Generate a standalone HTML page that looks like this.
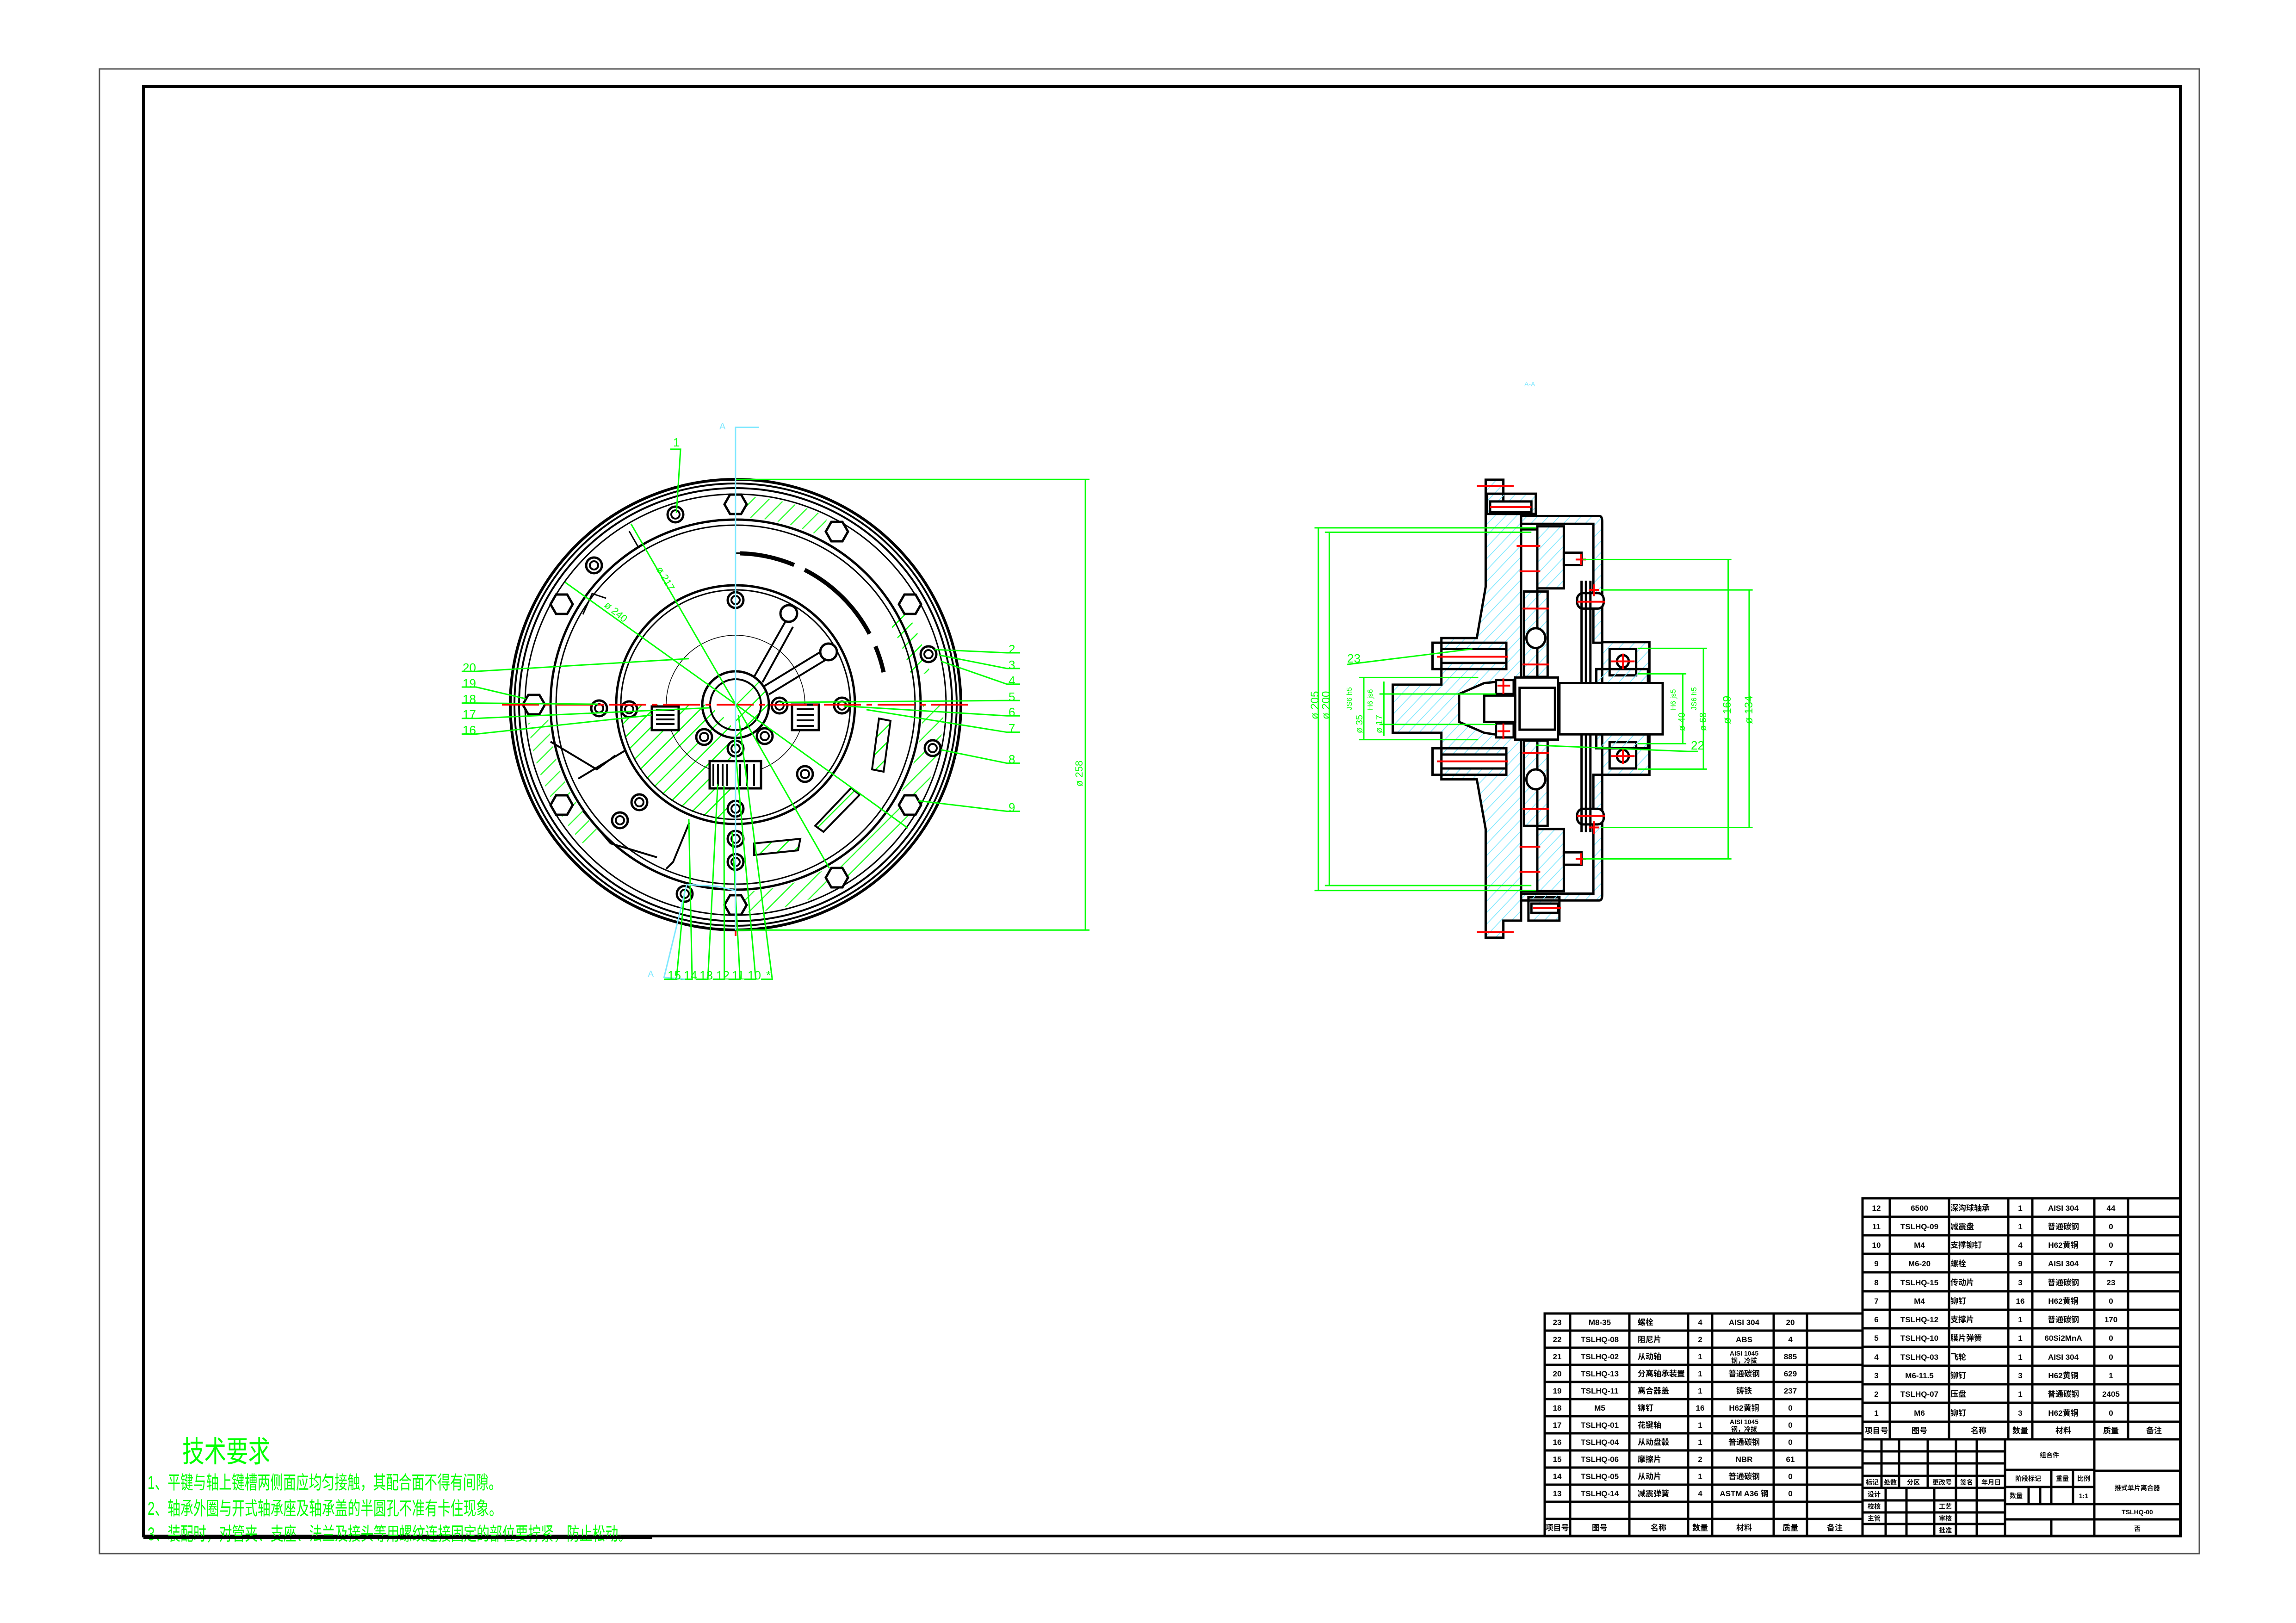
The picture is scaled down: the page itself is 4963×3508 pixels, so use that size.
<!DOCTYPE html>
<html><head><meta charset="utf-8"><style>
html,body{margin:0;padding:0;background:#fff;}
svg{display:block;}
text{font-family:"Liberation Sans","Noto Sans CJK SC",sans-serif;}
.k{stroke:#000;fill:none;}
.g{stroke:#00ff00;fill:none;}
.ns{vector-effect:non-scaling-stroke;}
</style></head><body>
<svg width="4963" height="3508" viewBox="0 0 4963 3508" xmlns="http://www.w3.org/2000/svg">
<defs>
<pattern id="hg" patternUnits="userSpaceOnUse" width="24" height="24" patternTransform="rotate(45)"><line x1="0" y1="0" x2="0" y2="24" stroke="#00ff00" stroke-width="5"/></pattern>
<pattern id="hc" patternUnits="userSpaceOnUse" width="26" height="26" patternTransform="rotate(45)"><line x1="0" y1="0" x2="0" y2="26" stroke="#7fe8ff" stroke-width="5"/></pattern>
<polygon id="hex" points="24,0 12,21 -12,21 -24,0 -12,-21 12,-21" fill="#fff" stroke="#000" stroke-width="5"/>
<g id="hole"><circle r="17" fill="#fff" stroke="#000" stroke-width="5"/><circle r="9" fill="none" stroke="#000" stroke-width="4"/></g>
</defs>
<rect width="4963" height="3508" fill="#fff"/>
<!-- frames -->
<rect x="215" y="149" width="4539" height="3209" fill="none" stroke="#555" stroke-width="3"/>
<rect x="310" y="187" width="4403" height="3133" fill="none" stroke="#000" stroke-width="6"/>

<!-- ================= FRONT VIEW ================= -->
<g transform="translate(1590,1523)">
  <!-- hatched regions -->
  <path d="M-250,0 A250,250 0 0 0 -10,250 L-10,40 L-60,0 Z" fill="url(#hg)"/>
  <path d="M0,0 L50,-50 A70,70 0 0 1 55,50 L0,70 Z" fill="url(#hg)"/>
  <path d="M405,0 A405,405 0 0 1 5,405 L5,450 A450,450 0 0 0 450,0 Z" fill="url(#hg)" opacity="0.85"/>
  <path d="M-405,30 A405,405 0 0 0 -300,270 L-330,300 A450,450 0 0 1 -448,40 Z" fill="url(#hg)" opacity="0.8"/>
  <path d="M5,-405 A405,405 0 0 1 180,-365 L200,-405 A450,450 0 0 0 5,-450 Z" fill="url(#hg)" opacity="0.8"/>
  <path d="M330,-180 A375,375 0 0 1 380,-60 L420,-70 A430,430 0 0 0 370,-200 Z" fill="url(#hg)"/>
  <!-- rings -->
  <circle r="487" class="k" stroke-width="6"/>
  <circle r="478" class="k" stroke-width="4"/>
  <circle r="468" class="k" stroke-width="4"/>
  <circle r="455" class="k" stroke-width="3"/>
  <circle r="400" class="k" stroke-width="5"/>
  <circle r="388" class="k" stroke-width="3"/>
  <circle r="258" class="k" stroke-width="5"/>
  <circle r="248" class="k" stroke-width="3"/>
  <circle r="150" class="k" stroke-width="1.5"/>
  <circle r="72" class="k" stroke-width="5"/>
  <circle r="55" class="k" stroke-width="4"/>
  <!-- dark arcs -->
  <path d="M10,-327 A327,327 0 0 1 320,-70" class="k" stroke-width="9" stroke-dasharray="120,25,200,30"/>
  <path d="M0,-327 L10,-327" class="k" stroke-width="4"/>
  <!-- slots -->
  <path d="M310,30 L335,35 L320,145 L295,140 Z" fill="url(#hg)" stroke="#000" stroke-width="4"/>
  <path d="M250,180 L268,195 L190,275 L172,262 Z" fill="url(#hg)" stroke="#000" stroke-width="4"/>
  <path d="M40,300 L140,290 L135,315 L40,325 Z" fill="url(#hg)" stroke="#000" stroke-width="4"/>
  <!-- compartments lower-left -->
  <path d="M-400,80 L-300,140 L-260,110" class="k" stroke-width="4"/>
  <path d="M-340,160 L-240,100" class="k" stroke-width="4"/>
  <path d="M-330,230 L-270,300 L-170,330" class="k" stroke-width="4"/>
  <path d="M-100,255 L-135,340 L-150,355" class="k" stroke-width="4"/>
  <path d="M-330,-195 L-310,-240 L-280,-230" class="k" stroke-width="3"/>
  <path d="M-230,-375 L-210,-340" class="k" stroke-width="3"/>
  <!-- hexagons -->
  <use href="#hex" x="0" y="-433"/><use href="#hex" x="219" y="-374"/><use href="#hex" x="377" y="-217"/>
  <use href="#hex" x="377" y="217"/><use href="#hex" x="219" y="374"/><use href="#hex" x="0" y="433"/>
  <use href="#hex" x="-376" y="217"/><use href="#hex" x="-376" y="-217"/><use href="#hex" x="-436" y="0"/>
  <!-- holes -->
  <use href="#hole" x="-130" y="-411"/><use href="#hole" x="-306" y="-301"/><use href="#hole" x="417" y="-109"/>
  <use href="#hole" x="426" y="94"/><use href="#hole" x="-110" y="409"/>
  <use href="#hole" x="0" y="-226"/><use href="#hole" x="-230" y="10"/><use href="#hole" x="-295" y="8"/>
  <use href="#hole" x="230" y="2"/><use href="#hole" x="95" y="2"/><use href="#hole" x="-208" y="211"/>
  <use href="#hole" x="-250" y="250"/><use href="#hole" x="150" y="150"/><use href="#hole" x="63" y="68"/>
  <use href="#hole" x="0" y="95"/><use href="#hole" x="-68" y="70"/><use href="#hole" x="0" y="225"/>
  <use href="#hole" x="0" y="290"/><use href="#hole" x="0" y="340"/>
  <!-- spokes -->
  <path d="M40,-60 L108,-180 M58,-48 L124,-168" class="k" stroke-width="4"/>
  <path d="M62,-40 L190,-118 M72,-22 L200,-100" class="k" stroke-width="4"/>
  <circle cx="115" cy="-197" r="18" fill="#fff" stroke="#000" stroke-width="5"/>
  <circle cx="201" cy="-114" r="18" fill="#fff" stroke="#000" stroke-width="5"/>
  <!-- spring boxes -->
  <rect x="-181" y="4" width="58" height="51" fill="#fff" stroke="#000" stroke-width="5"/>
  <path d="M-172,12 H-132 M-172,22 H-132 M-172,32 H-132 M-172,42 H-132" class="k" stroke-width="4"/>
  <rect x="-56" y="122" width="111" height="59" fill="#fff" stroke="#000" stroke-width="5"/>
  <path d="M-48,128 V176 M-38,128 V176 M-28,128 V176 M-18,128 V176 M10,128 V176 M25,128 V176 M40,128 V176" class="k" stroke-width="4"/>
  <rect x="122" y="0" width="58" height="55" fill="#fff" stroke="#000" stroke-width="5"/>
  <path d="M132,10 H170 M132,22 H170 M132,34 H170 M132,46 H170" class="k" stroke-width="4"/>
  <!-- center lines -->
  <line x1="-505" y1="0" x2="502" y2="0" stroke="#ff0000" stroke-width="4" stroke-dasharray="80,12,12,12"/>
  <line x1="0" y1="410" x2="0" y2="500" stroke="#ff0000" stroke-width="4" stroke-dasharray="30,10"/>
</g>
<!-- front leaders / dims in zoom coordinates -->
<g transform="translate(980,900) scale(0.8929,0.7874)">
  <g stroke="#00ff00" fill="none" stroke-width="3" class="ns">
    <line class="ns" x1="683" y1="173" x2="1540" y2="173"/><line class="ns" x1="683" y1="1410" x2="1540" y2="1410"/>
    <line class="ns" x1="1530" y1="173" x2="1530" y2="1410"/>
    <line class="ns" x1="683" y1="790" x2="430" y2="295"/>
    <line class="ns" x1="683" y1="790" x2="270" y2="455"/>
    <line class="ns" x1="683" y1="790" x2="1100" y2="1130"/>
    <line class="ns" x1="683" y1="790" x2="910" y2="1240"/>
    <path class="ns" d="M1372,649 H1340 L1165,640 M1372,692 H1340 L1175,655 M1372,735 H1340 L1180,672 M1372,780 H1340 L790,785 M1372,822 H1340 L945,795 M1372,867 H1340 L1000,805 M1372,952 H1340 L1180,915 M1372,1084 H1340 L1125,1055"/>
    <path class="ns" d="M20,700 H55 L570,665 M20,743 H55 L175,775 M20,787 H55 L350,790 M20,829 H55 L620,800 M20,872 H55 L480,820"/>
    <path class="ns" d="M510,1545 H540 L560,1300 M550,1545 H578 L570,1105 M588,1545 H616 L640,1010 M628,1545 H656 L655,1015 M666,1545 H694 L675,1140 M704,1545 H732 L680,880 M745,1545 H772 L690,820"/>
    <path class="ns" d="M525,90 H550 L540,265"/>
  </g>
  <g stroke="#7fe8ff" fill="none" stroke-width="3">
    <path class="ns" d="M740,30 H683 V1410"/>
    <path class="ns" d="M565,1285 L640,1290 L683,1302 M565,1285 L510,1540 L560,1545"/>
  </g>
</g>
<g fill="#00ff00" font-size="26">
  <text x="2180" y="1412">2</text><text x="2180" y="1446">3</text><text x="2180" y="1480">4</text>
  <text x="2180" y="1515">5</text><text x="2180" y="1548">6</text><text x="2180" y="1583">7</text>
  <text x="2180" y="1650">8</text><text x="2180" y="1754">9</text>
  <text x="1000" y="1452">20</text><text x="1000" y="1486">19</text><text x="1000" y="1520">18</text>
  <text x="1000" y="1553">17</text><text x="1000" y="1587">16</text>
  <text x="1443" y="2117">15</text><text x="1478" y="2117">14</text><text x="1512" y="2117">13</text>
  <text x="1548" y="2117">12</text><text x="1582" y="2117">11</text><text x="1616" y="2117">10</text>
  <text x="1656" y="2117">*</text><text x="1455" y="965">1</text>
  <text x="2340" y="1700" transform="rotate(-90 2340 1700)" font-size="22">ø 258</text>
  <text x="1418" y="1230" transform="rotate(60 1418 1230)" font-size="22">ø 217</text>
  <text x="1305" y="1310" transform="rotate(40 1305 1310)" font-size="22">ø 240</text>
</g>
<text x="1555" y="928" fill="#7fe8ff" font-size="20">A</text>
<text x="1400" y="2112" fill="#7fe8ff" font-size="20">A</text>
<text x="3295" y="835" fill="#7fe8ff" font-size="14">A-A</text>

<!-- ================= SIDE VIEW ================= -->
<g transform="translate(2800,1000) scale(0.6378,0.6711)">
  <g stroke="#000" stroke-width="5">
    <path class="ns" d="M645,55 H705 V165 H765 V1475 H705 V1530 H645 V1180 L615,1020 H495 V870 H330 V715 H495 V565 H615 L645,400 Z" fill="url(#hc)"/>
    <path class="ns" d="M745,700 L640,710 L555,745 V835 L640,870 L745,885 Z" fill="#fff"/>
    <rect class="ns" x="650" y="100" width="165" height="65" fill="url(#hc)"/>
    <rect class="ns" x="660" y="125" width="140" height="35" fill="#fff"/>
    <rect class="ns" x="790" y="1400" width="105" height="75" fill="url(#hc)"/>
    <rect class="ns" x="800" y="1420" width="90" height="30" fill="#fff"/>
    <path class="ns" d="M765,172 H1030 Q1040,172 1040,190 V580 H1010 V197 H765 Z" fill="url(#hc)"/>
    <path class="ns" d="M765,1410 H1030 Q1040,1410 1040,1392 V1005 H1010 V1388 H765 Z" fill="url(#hc)"/>
    <rect class="ns" x="820" y="205" width="90" height="200" fill="url(#hc)"/>
    <rect class="ns" x="820" y="1180" width="90" height="200" fill="url(#hc)"/>
    <rect class="ns" x="775" y="415" width="80" height="275" fill="url(#hc)"/>
    <rect class="ns" x="775" y="895" width="80" height="275" fill="url(#hc)"/>
    <rect class="ns" x="765" y="215" width="55" height="1165" fill="none"/>
    <rect class="ns" x="910" y="290" width="60" height="40" fill="#fff"/>
    <rect class="ns" x="910" y="1255" width="60" height="40" fill="#fff"/>
    <rect class="ns" x="955" y="420" width="90" height="50" rx="20" fill="#fff"/>
    <rect class="ns" x="955" y="1115" width="90" height="50" rx="20" fill="#fff"/>
    <path class="ns" d="M970,380 V1190 M985,380 V1190 M1000,380 V1190" fill="none"/>
    <circle class="ns" cx="815" cy="565" r="32" fill="#fff"/>
    <circle class="ns" cx="815" cy="1020" r="32" fill="#fff"/>
    <rect class="ns" x="1040" y="578" width="160" height="427" fill="url(#hc)"/>
    <rect class="ns" x="1065" y="600" width="90" height="85" fill="#fff"/>
    <rect class="ns" x="1065" y="900" width="90" height="85" fill="#fff"/>
    <circle class="ns" cx="1110" cy="640" r="20" fill="#fff"/>
    <circle class="ns" cx="1110" cy="945" r="20" fill="#fff"/>
    <rect class="ns" x="1020" y="665" width="175" height="45" fill="url(#hc)"/>
    <rect class="ns" x="1020" y="875" width="175" height="45" fill="url(#hc)"/>
    <rect class="ns" x="465" y="580" width="250" height="85" fill="url(#hc)"/>
    <rect class="ns" x="495" y="600" width="220" height="45" fill="#fff"/>
    <rect class="ns" x="465" y="580" width="30" height="85" fill="#fff"/>
    <rect class="ns" x="465" y="920" width="250" height="85" fill="url(#hc)"/>
    <rect class="ns" x="495" y="940" width="220" height="45" fill="#fff"/>
    <rect class="ns" x="465" y="920" width="30" height="85" fill="#fff"/>
    <rect class="ns" x="895" y="710" width="350" height="165" fill="#fff"/>
    <rect class="ns" x="745" y="692" width="145" height="200" fill="#fff"/>
    <rect class="ns" x="760" y="725" width="120" height="135" fill="#fff"/>
    <rect class="ns" x="640" y="750" width="105" height="85" fill="#fff"/>
    <rect class="ns" x="680" y="700" width="60" height="45" fill="#fff"/>
    <rect class="ns" x="680" y="840" width="60" height="45" fill="#fff"/>
  </g>
  <g stroke="#ff0000" stroke-width="4" fill="none">
    <path class="ns" d="M615,75 H740 M615,1512 H740 M660,143 H800 M805,1435 H900 M480,625 H720 M480,962 H720 M750,268 H830 M760,350 H830 M770,470 H860 M770,650 H860 M770,935 H860 M770,1115 H860 M760,1237 H830 M760,1318 H830 M955,448 H1050 M955,1138 H1050 M1070,640 H1150 M1070,945 H1150"/>
    <path class="ns" d="M950,312 H985 M968,295 V330 M995,410 H1030 M1012,392 V430 M995,1175 H1030 M1012,1155 V1195 M950,1276 H985 M968,1258 V1295 M685,718 H728 M705,695 V745 M685,865 H728 M705,840 V890 M1110,615 V665 M1110,920 V970"/>
  </g>
  <g stroke="#00ff00" stroke-width="3" fill="none">
    <path class="ns" d="M65,210 H815 M100,224 H800 M65,1378 H815 M100,1362 H800 M78,210 V1378 M115,224 V1362"/>
    <path class="ns" d="M215,692 H620 M215,892 H620 M232,692 V892 M285,745 H680 M285,843 H680 M300,705 V880"/>
    <path class="ns" d="M975,312 H1478 M975,1276 H1478 M1467,312 V1276 M1035,410 H1550 M1035,1175 H1550 M1538,410 V1175"/>
    <path class="ns" d="M1160,598 H1395 M1160,987 H1395 M1383,598 V987 M1160,680 H1325 M1160,905 H1325 M1313,680 V905"/>
    <path class="ns" d="M175,650 L600,600 M1365,930 H1330 L815,910"/>
  </g>
</g>
<g fill="#00ff00" font-size="24">
  <text x="2850" y="1555" transform="rotate(-90 2850 1555)">ø 205</text>
  <text x="2874" y="1555" transform="rotate(-90 2874 1555)">ø 200</text>
  <text x="2945" y="1585" transform="rotate(-90 2945 1585)" font-size="20">ø 35</text>
  <text x="2988" y="1585" transform="rotate(-90 2988 1585)" font-size="20">ø 17</text>
  <text x="2922" y="1535" transform="rotate(-90 2922 1535)" font-size="16">JS6 h5</text>
  <text x="2967" y="1535" transform="rotate(-90 2967 1535)" font-size="16">H6 js6</text>
  <text x="3741" y="1565" transform="rotate(-90 3741 1565)">ø 169</text>
  <text x="3788" y="1565" transform="rotate(-90 3788 1565)">ø 134</text>
  <text x="3688" y="1580" transform="rotate(-90 3688 1580)" font-size="20">ø 68</text>
  <text x="3642" y="1580" transform="rotate(-90 3642 1580)" font-size="20">ø 40</text>
  <text x="3622" y="1535" transform="rotate(-90 3622 1535)" font-size="16">H6 js5</text>
  <text x="3667" y="1535" transform="rotate(-90 3667 1535)" font-size="16">JS6 h5</text>
  <text x="2912" y="1432" font-size="26">23</text>
  <text x="3655" y="1620" font-size="26">22</text>
</g>

<!-- ================= TECH REQUIREMENTS ================= -->
<g fill="#00ff00">
  <text x="394" y="3160" font-size="64" textLength="190" lengthAdjust="spacingAndGlyphs" font-family="'Liberation Serif','Noto Serif CJK SC',serif">技术要求</text>
  <text x="319" y="3218" font-size="40" textLength="765" lengthAdjust="spacingAndGlyphs">1、平键与轴上键槽两侧面应均匀接触，其配合面不得有间隙。</text>
  <text x="319" y="3274" font-size="40" textLength="766" lengthAdjust="spacingAndGlyphs">2、轴承外圈与开式轴承座及轴承盖的半圆孔不准有卡住现象。</text>
  <text x="319" y="3329" font-size="40" textLength="1045" lengthAdjust="spacingAndGlyphs">3、装配时，对管夹、支座、法兰及接头等用螺纹连接固定的部位要拧紧，防止松动。</text>
</g>
<rect x="310" y="3320" width="1100" height="6" fill="#000"/>

<!-- ================= LEFT BOM TABLE ================= -->
<g stroke="#000" stroke-width="5" fill="none">
  <rect x="3339" y="2839" width="687" height="481"/>
  <path d="M3394,2839 V3320 M3522,2839 V3320 M3649,2839 V3320 M3701,2839 V3320 M3834,2839 V3320 M3906,2839 V3320"/>
  <path d="M3339,2876 H4026 M3339,2913 H4026 M3339,2950 H4026 M3339,2987 H4026 M3339,3024 H4026 M3339,3061 H4026 M3339,3098 H4026 M3339,3135 H4026 M3339,3172 H4026 M3339,3209 H4026 M3339,3246 H4026 M3339,3283 H4026"/>
</g>
<g font-size="17" fill="#000" text-anchor="middle" font-weight="bold">
  <text x="3366" y="2864">23</text><text x="3458" y="2864">M8-35</text><text x="3540" y="2864" text-anchor="start">螺栓</text><text x="3675" y="2864">4</text><text x="3770" y="2864">AISI 304</text><text x="3870" y="2864">20</text>
  <text x="3366" y="2901">22</text><text x="3458" y="2901">TSLHQ-08</text><text x="3540" y="2901" text-anchor="start">阻尼片</text><text x="3675" y="2901">2</text><text x="3770" y="2901">ABS</text><text x="3870" y="2901">4</text>
  <text x="3366" y="2938">21</text><text x="3458" y="2938">TSLHQ-02</text><text x="3540" y="2938" text-anchor="start">从动轴</text><text x="3675" y="2938">1</text><text x="3770" y="2930" font-size="14">AISI 1045</text><text x="3770" y="2946" font-size="14">钢，冷拔</text><text x="3870" y="2938">885</text>
  <text x="3366" y="2975">20</text><text x="3458" y="2975">TSLHQ-13</text><text x="3540" y="2975" text-anchor="start">分离轴承装置</text><text x="3675" y="2975">1</text><text x="3770" y="2975">普通碳钢</text><text x="3870" y="2975">629</text>
  <text x="3366" y="3012">19</text><text x="3458" y="3012">TSLHQ-11</text><text x="3540" y="3012" text-anchor="start">离合器盖</text><text x="3675" y="3012">1</text><text x="3770" y="3012">铸铁</text><text x="3870" y="3012">237</text>
  <text x="3366" y="3049">18</text><text x="3458" y="3049">M5</text><text x="3540" y="3049" text-anchor="start">铆钉</text><text x="3675" y="3049">16</text><text x="3770" y="3049">H62黄铜</text><text x="3870" y="3049">0</text>
  <text x="3366" y="3086">17</text><text x="3458" y="3086">TSLHQ-01</text><text x="3540" y="3086" text-anchor="start">花键轴</text><text x="3675" y="3086">1</text><text x="3770" y="3078" font-size="14">AISI 1045</text><text x="3770" y="3094" font-size="14">钢，冷拔</text><text x="3870" y="3086">0</text>
  <text x="3366" y="3123">16</text><text x="3458" y="3123">TSLHQ-04</text><text x="3540" y="3123" text-anchor="start">从动盘毂</text><text x="3675" y="3123">1</text><text x="3770" y="3123">普通碳钢</text><text x="3870" y="3123">0</text>
  <text x="3366" y="3160">15</text><text x="3458" y="3160">TSLHQ-06</text><text x="3540" y="3160" text-anchor="start">摩擦片</text><text x="3675" y="3160">2</text><text x="3770" y="3160">NBR</text><text x="3870" y="3160">61</text>
  <text x="3366" y="3197">14</text><text x="3458" y="3197">TSLHQ-05</text><text x="3540" y="3197" text-anchor="start">从动片</text><text x="3675" y="3197">1</text><text x="3770" y="3197">普通碳钢</text><text x="3870" y="3197">0</text>
  <text x="3366" y="3234">13</text><text x="3458" y="3234">TSLHQ-14</text><text x="3540" y="3234" text-anchor="start">减震弹簧</text><text x="3675" y="3234">4</text><text x="3770" y="3234">ASTM A36 钢</text><text x="3870" y="3234">0</text>
  <text x="3366" y="3308">项目号</text><text x="3458" y="3308">图号</text><text x="3585" y="3308">名称</text><text x="3675" y="3308">数量</text><text x="3770" y="3308">材料</text><text x="3870" y="3308">质量</text><text x="3966" y="3308">备注</text>
</g>

<!-- ================= RIGHT BOM TABLE ================= -->
<g stroke="#000" stroke-width="5" fill="none">
  <rect x="4026" y="2590" width="687" height="730"/>
  <path d="M4085,2590 V3111 M4213,2590 V3111 M4341,2590 V3111 M4393,2590 V3111 M4527,2590 V3111 M4600,2590 V3111"/>
  <path d="M4026,2630 H4713 M4026,2670 H4713 M4026,2710 H4713 M4026,2750 H4713 M4026,2791 H4713 M4026,2831 H4713 M4026,2871 H4713 M4026,2911 H4713 M4026,2952 H4713 M4026,2992 H4713 M4026,3032 H4713 M4026,3073 H4713 M4026,3111 H4713"/>
  <!-- title block -->
  <path d="M4334,3111 V3320 M4527,3111 V3320"/>
  <path d="M4026,3137 H4334 M4026,3163 H4334 M4026,3190 H4334 M4026,3216 H4334 M4026,3243 H4334 M4026,3269 H4334 M4026,3294 H4334"/>
  <path d="M4067,3111 V3216 M4105,3111 V3216 M4167,3111 V3216 M4228,3111 V3216 M4273,3111 V3216"/>
  <path d="M4076,3216 V3320 M4121,3216 V3320 M4181,3216 V3320 M4228,3216 V3320 M4273,3216 V3320"/>
  <path d="M4334,3177 H4527 M4334,3214 H4527 M4334,3251 H4713 M4334,3284 H4713 M4527,3179 H4713"/>
  <path d="M4434,3177 V3251 M4481,3177 V3251 M4385,3214 V3251 M4410,3214 V3251 M4434,3284 V3320"/>
</g>
<g font-size="17" fill="#000" text-anchor="middle" font-weight="bold">
  <text x="4056" y="2617">12</text><text x="4149" y="2617">6500</text><text x="4216" y="2617" text-anchor="start">深沟球轴承</text><text x="4367" y="2617">1</text><text x="4460" y="2617">AISI 304</text><text x="4563" y="2617">44</text>
  <text x="4056" y="2657">11</text><text x="4149" y="2657">TSLHQ-09</text><text x="4216" y="2657" text-anchor="start">减震盘</text><text x="4367" y="2657">1</text><text x="4460" y="2657">普通碳钢</text><text x="4563" y="2657">0</text>
  <text x="4056" y="2697">10</text><text x="4149" y="2697">M4</text><text x="4216" y="2697" text-anchor="start">支撑铆钉</text><text x="4367" y="2697">4</text><text x="4460" y="2697">H62黄铜</text><text x="4563" y="2697">0</text>
  <text x="4056" y="2737">9</text><text x="4149" y="2737">M6-20</text><text x="4216" y="2737" text-anchor="start">螺栓</text><text x="4367" y="2737">9</text><text x="4460" y="2737">AISI 304</text><text x="4563" y="2737">7</text>
  <text x="4056" y="2778">8</text><text x="4149" y="2778">TSLHQ-15</text><text x="4216" y="2778" text-anchor="start">传动片</text><text x="4367" y="2778">3</text><text x="4460" y="2778">普通碳钢</text><text x="4563" y="2778">23</text>
  <text x="4056" y="2818">7</text><text x="4149" y="2818">M4</text><text x="4216" y="2818" text-anchor="start">铆钉</text><text x="4367" y="2818">16</text><text x="4460" y="2818">H62黄铜</text><text x="4563" y="2818">0</text>
  <text x="4056" y="2858">6</text><text x="4149" y="2858">TSLHQ-12</text><text x="4216" y="2858" text-anchor="start">支撑片</text><text x="4367" y="2858">1</text><text x="4460" y="2858">普通碳钢</text><text x="4563" y="2858">170</text>
  <text x="4056" y="2898">5</text><text x="4149" y="2898">TSLHQ-10</text><text x="4216" y="2898" text-anchor="start">膜片弹簧</text><text x="4367" y="2898">1</text><text x="4460" y="2898">60Si2MnA</text><text x="4563" y="2898">0</text>
  <text x="4056" y="2939">4</text><text x="4149" y="2939">TSLHQ-03</text><text x="4216" y="2939" text-anchor="start">飞轮</text><text x="4367" y="2939">1</text><text x="4460" y="2939">AISI 304</text><text x="4563" y="2939">0</text>
  <text x="4056" y="2979">3</text><text x="4149" y="2979">M6-11.5</text><text x="4216" y="2979" text-anchor="start">铆钉</text><text x="4367" y="2979">3</text><text x="4460" y="2979">H62黄铜</text><text x="4563" y="2979">1</text>
  <text x="4056" y="3019">2</text><text x="4149" y="3019">TSLHQ-07</text><text x="4216" y="3019" text-anchor="start">压盘</text><text x="4367" y="3019">1</text><text x="4460" y="3019">普通碳钢</text><text x="4563" y="3019">2405</text>
  <text x="4056" y="3060">1</text><text x="4149" y="3060">M6</text><text x="4216" y="3060" text-anchor="start">铆钉</text><text x="4367" y="3060">3</text><text x="4460" y="3060">H62黄铜</text><text x="4563" y="3060">0</text>
  <text x="4056" y="3098">项目号</text><text x="4149" y="3098">图号</text><text x="4277" y="3098">名称</text><text x="4367" y="3098">数量</text><text x="4460" y="3098">材料</text><text x="4563" y="3098">质量</text><text x="4656" y="3098">备注</text>
</g>
<g font-size="14" fill="#000" text-anchor="middle" font-weight="bold">
  <text x="4047" y="3209">标记</text><text x="4086" y="3209">处数</text><text x="4136" y="3209">分区</text><text x="4198" y="3209">更改号</text><text x="4251" y="3209">签名</text><text x="4304" y="3209">年月日</text>
  <text x="4051" y="3235">设计</text><text x="4051" y="3261">校核</text><text x="4051" y="3287">主管</text>
  <text x="4205" y="3261">工艺</text><text x="4205" y="3287">审核</text><text x="4205" y="3313">批准</text>
  <text x="4430" y="3150">组合件</text>
  <text x="4384" y="3201">阶段标记</text><text x="4458" y="3201">重量</text><text x="4504" y="3201">比例</text>
  <text x="4358" y="3238">数量</text><text x="4504" y="3238">1:1</text>
  <text x="4620" y="3221">推式单片离合器</text>
  <text x="4620" y="3273">TSLHQ-00</text>
  <text x="4620" y="3309">否</text>
</g>
</svg>
</body></html>
